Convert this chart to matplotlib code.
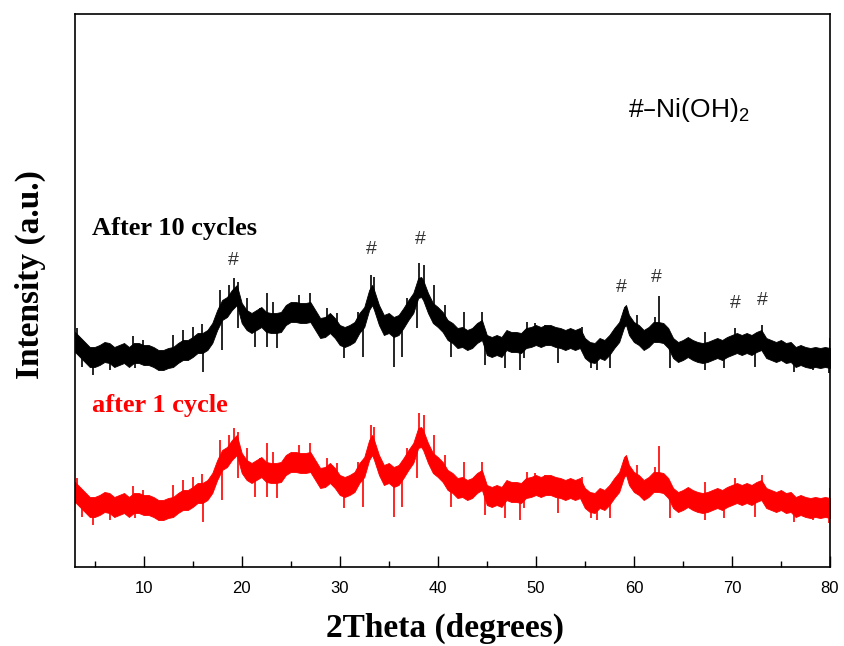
import numpy as np
import matplotlib.pyplot as plt
from matplotlib.ticker import MultipleLocator

# patron DRX: centro de la banda de ruido (unidades arbitrarias)
two_theta = [3, 3.5, 4, 4.5, 5, 5.5, 6, 6.5, 7, 7.5, 8, 8.5, 9, 9.5, 10, 10.5, 11, 11.5,
             12, 12.5, 13, 13.5, 14, 14.5, 15, 15.5, 16, 16.5, 17, 17.5, 18, 18.5, 19,
             19.5, 20, 20.5, 21, 21.5, 22, 22.5, 23, 23.5, 24, 24.5, 25, 25.5, 26, 26.5,
             27, 27.5, 28, 28.5, 29, 29.5, 30, 30.5, 31, 31.5, 32, 32.5, 33, 33.3, 33.5,
             34, 34.5, 35, 35.5, 36, 36.5, 37, 37.5, 38, 38.3, 38.5, 39, 39.5, 40, 40.5,
             41, 41.5, 42, 42.5, 43, 43.5, 44, 44.5, 45, 45.5, 46, 46.5, 47, 47.5, 48,
             48.5, 49, 49.5, 50, 50.5, 51, 51.5, 52, 52.5, 53, 53.5, 54, 54.5, 55, 55.5,
             56, 56.5, 57, 57.5, 58, 58.5, 59, 59.2, 59.5, 60, 60.5, 61, 61.5, 62, 62.5,
             63, 63.5, 64, 64.5, 65, 65.5, 66, 66.5, 67, 67.5, 68, 68.5, 69, 69.5, 70,
             70.5, 71, 71.5, 72, 72.5, 73, 73.5, 74, 74.5, 75, 75.5, 76, 76.5, 77, 77.5,
             78, 78.5, 79, 79.5, 80]
intensidad = [225, 220, 215, 210, 210, 212, 215, 214, 210, 212, 214, 210, 214, 214, 212,
              212, 210, 207, 207, 209, 210, 214, 217, 217, 220, 224, 224, 227, 234, 247,
              257, 260, 267, 272, 254, 247, 244, 247, 250, 245, 244, 244, 245, 252, 255,
              255, 254, 254, 255, 247, 239, 240, 244, 239, 232, 230, 232, 235, 244, 250,
              267, 272, 267, 252, 242, 244, 240, 242, 249, 257, 264, 279, 280, 277, 264,
              254, 250, 245, 237, 234, 229, 230, 227, 229, 234, 237, 222, 220, 222, 220,
              227, 225, 225, 224, 229, 230, 232, 230, 232, 232, 230, 229, 227, 229, 227,
              229, 219, 215, 214, 219, 217, 222, 229, 235, 250, 252, 242, 235, 232, 227,
              230, 235, 235, 234, 229, 219, 215, 217, 220, 217, 215, 214, 215, 217, 219,
              217, 220, 222, 224, 222, 224, 222, 225, 227, 219, 217, 215, 217, 214, 215,
              210, 212, 210, 209, 210, 209, 210, 209]
ancho_banda = 10

# picos de ruido sueltos: posicion y extremo
picos_x = [3.17, 6.06, 8.95, 9.97, 13.0, 14.05, 15.07, 15.9, 17.8, 18.7, 19.26, 19.6, 20.5,
           21.9, 22.56, 23.2, 25.8, 27.0, 28.7, 29.7, 31.9, 33.2, 33.45, 36.85, 38.1,
           38.55, 39.57, 40.76, 42.63, 44.5, 49.1, 49.94, 50.96, 54.7, 58.96, 59.3, 60.3,
           62.2, 62.6, 67.3, 70.3, 72.1, 73.1, 80.0,
           3.7, 4.87, 6.57, 9.1, 11.5, 16.1, 18.0, 19.67, 21.4, 22.56, 23.6, 30.4, 32.4,
           35.5, 36.3, 37.9, 41.3, 44.84, 46.9, 48.4, 48.75, 52.3, 55.6, 56.2, 57.6,
           63.7, 67.3, 69.2, 72.4, 76.3, 78.3, 79.9]
picos_y = [239, 224, 231, 227, 232, 237, 240, 243, 277, 282, 289, 285, 269,
           259, 274, 265, 272, 274, 259, 254, 255, 292, 290, 269, 304,
           302, 282, 262, 255, 255, 245, 244, 242, 240, 257, 258, 252,
           250, 271, 235, 239, 232, 242, 229,
           200, 192, 197, 199, 199, 195, 217, 239, 220, 220, 219, 209, 210,
           200, 210, 239, 210, 202, 199, 197, 209, 204, 199, 197, 199,
           199, 197, 199, 200, 195, 197, 194]

desplazamiento_rojo = 150

# marcas # de Ni(OH)2
marcas_x = [19.1, 33.2, 38.2, 58.7, 62.3, 70.4, 73.1]
marcas_y = [307, 318, 328, 280, 290, 264, 267]

x = np.array(two_theta)
y = np.array(intensidad)
px = np.array(picos_x)
py = np.array(picos_y)

plt.rcParams['mathtext.default'] = 'regular'

fig = plt.figure(figsize=(8.45, 6.46), dpi=100)
ax = fig.add_axes([0.0888, 0.1223, 0.8934, 0.856])

for off, col in [(0, 'black'), (desplazamiento_rojo, 'red')]:
    ax.fill_between(x, y - ancho_banda - off, y + ancho_banda - off, color=col, lw=0.6)
    base = np.interp(px, x, y) - off
    ax.vlines(px, base, py - off, color=col, lw=1.2)

for mx, my in zip(marcas_x, marcas_y):
    ax.text(mx, my, '#', fontsize=14, color='#333333', ha='center', va='center',
            family='Liberation Sans')

ax.text(4.73, 339, 'After 10 cycles', fontsize=19, fontweight='bold',
        family='Liberation Serif', color='black', va='center')
ax.text(4.73, 162, 'after 1 cycle', fontsize=19, fontweight='bold',
        family='Liberation Serif', color='red', va='center')
ax.text(59.4, 450, '#–Ni(OH)$_2$', fontsize=19, family='Liberation Sans', color='black')

ax.set_xlim(3, 80)
ax.set_ylim(0, 553)
ax.xaxis.set_major_locator(MultipleLocator(10))
ax.xaxis.set_minor_locator(MultipleLocator(5))
ax.set_xticks([10, 20, 30, 40, 50, 60, 70, 80])
ax.tick_params(axis='x', which='major', direction='in', length=8, width=1, labelsize=12, pad=10)
ax.tick_params(axis='x', which='minor', direction='in', length=4, width=1)
ax.set_yticks([])
for lab in ax.get_xticklabels():
    lab.set_family('Liberation Sans')
for s in ax.spines.values():
    s.set_linewidth(1.2)

fig.text(0.5266, 0.0279, '2Theta (degrees)', fontsize=24, fontweight='bold',
         family='Liberation Serif', ha='center', va='center')
fig.text(0.0355, 0.5743, 'Intensity (a.u.)', fontsize=24, fontweight='bold',
         family='Liberation Serif', ha='center', va='center', rotation=90)

fig.savefig('out.png', dpi=100)
